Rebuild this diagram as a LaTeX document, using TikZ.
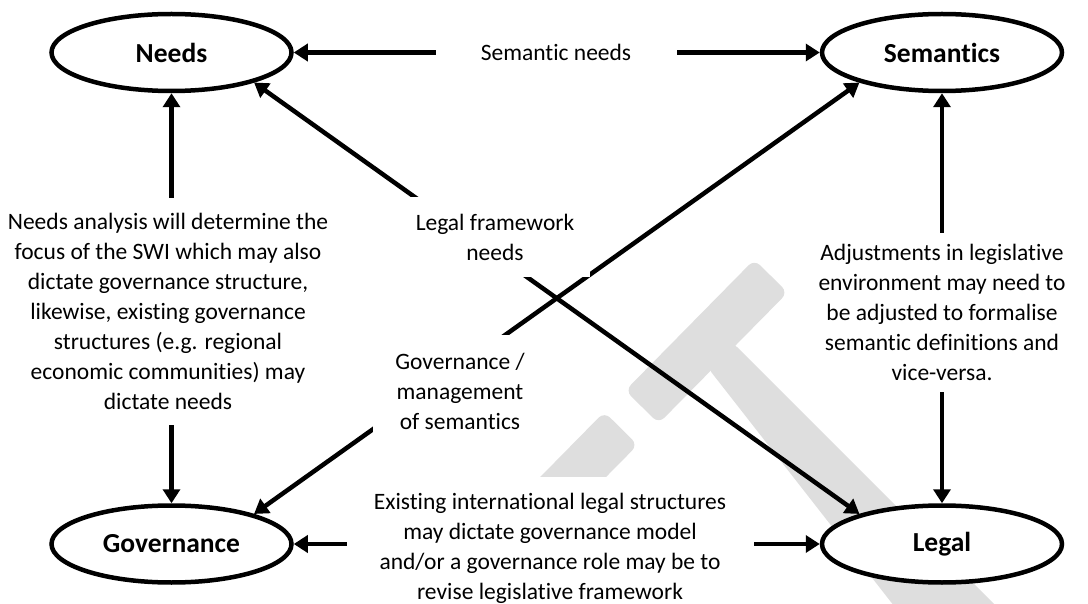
\documentclass[tikz,border=0pt]{standalone}
\usepackage{fontspec}
\setmainfont{Carlito}[Ligatures=NoCommon]
\usepackage{tikz}
\usetikzlibrary{shapes.geometric,arrows.meta}

\begin{document}
\begin{tikzpicture}[x=1pt,y=-1pt,
	blob/.style={ellipse,draw,line width=4.5pt,fill=white,minimum width=240pt,minimum height=77pt,font=\fontsize{27.5}{30}\selectfont\bfseries},
	note/.style={fill=white,align=center,inner sep=0pt,font=\fontsize{23.5}{30}\selectfont},
	link/.style={line width=4.5pt,{Triangle[length=14pt,width=17pt]}-{Triangle[length=14pt,width=17pt]}}]
	\useasboundingbox (0,0) rectangle (1088,604);
	\begin{scope}
		\clip (0,0) rectangle (1088,604);
		\fill[black!13,rounded corners=8pt] (625.3,390.5) -- (754.3,259.5) -- (787.7,292.5) -- (658.7,423.5) -- cycle;
		\fill[black!13,rounded corners=8pt] (604.3,411.9) -- (637.7,444.9) -- (462,623) -- (429,590) -- cycle;
		\fill[black!13,rounded corners=6pt] (708,368) -- (733,343) -- (1010,620) -- (905,620) -- cycle;
	\end{scope}
	\node[blob] (needs) at (171.5,52.5) {Needs};
	\node[blob] (sem) at (942,52.5) {Semantics};
	\node[blob] (gov) at (171.5,544) {Governance};
	\node[blob] (legal) at (942,544) {Legal};
	\draw[link] (needs) -- (sem);
	\draw[link] (gov) -- (legal);
	\draw[link] (needs) -- (gov);
	\draw[link] (sem) -- (legal);
	\draw[link] (needs.-20) -- (legal.160);
	\draw[link] (gov.20) -- (sem.200);
	\node[note,minimum width=241pt] (sn) at (556,52.5) {Semantic needs};
	\node[note,minimum width=190pt,minimum height=80pt] (lfn) at (495,237) {Legal framework\\needs};
	\node[note,minimum width=174pt,minimum height=112pt] (gms) at (460,391) {Governance /\\management\\of semantics};
	\node[note,minimum width=320pt,minimum height=227pt] (ana) at (168,311.5) {Needs analysis will determine the\\focus of the SWI which may also\\dictate governance structure,\\likewise, existing governance\\structures (e.g. regional\\economic communities) may\\dictate needs};
	\node[note,minimum width=250pt,minimum height=159pt] (adj) at (942,312.5) {Adjustments in legislative\\environment may need to\\be adjusted to formalise\\semantic definitions and\\vice-versa.};
	\node[note,minimum width=407pt,minimum height=142pt] (ex) at (550,548) {Existing international legal structures\\may dictate governance model\\and/or a governance role may be to\\revise legislative framework};
\end{tikzpicture}
\end{document}
